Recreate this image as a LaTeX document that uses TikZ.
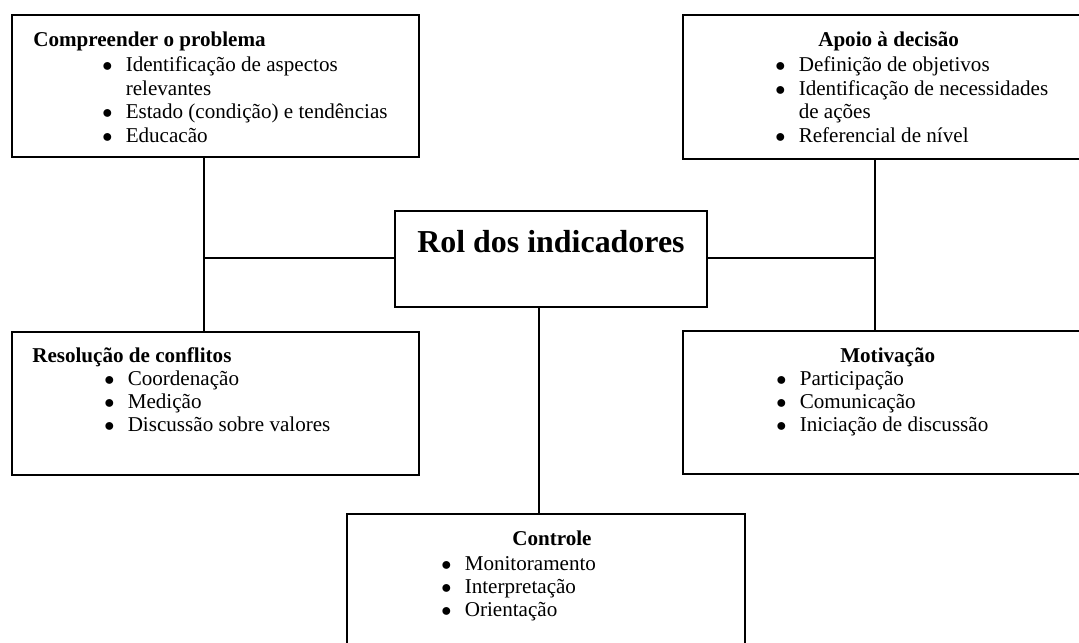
\documentclass[tikz,border=0pt]{standalone}
\usepackage{fontspec}
\setmainfont{Liberation Serif}
\usetikzlibrary{fit}

\newcommand{\listaitens}[1]{\begin{tabular}[t]{@{}l@{\hspace{9.5pt}}l@{}}#1\end{tabular}}
\newcommand{\marca}{$\bullet$}

\tikzset{
  caixa/.style={draw, line width=1.1pt, inner sep=0pt},
  cabecalho/.style={anchor=base west, inner sep=0pt, font=\fontsize{15}{16.6}\selectfont\bfseries},
  itens/.style={anchor=base west, inner sep=0pt, font=\fontsize{15}{16.6}\selectfont},
  ligacao/.style={line width=0.8pt}
}

\begin{document}
\begin{tikzpicture}[x=0.025cm, y=-0.025cm]
  \useasboundingbox (0,0) rectangle (1079,643);
  \clip (0,0) rectangle (1079,643);

  % Caixa central
  \node[caixa, fit={(395,211) (707,307)}] (rol) {};
  \node[anchor=base, inner sep=0pt, font=\fontsize{22.7}{26}\selectfont\bfseries] (roltxt) at (551,252) {Rol dos indicadores};

  % Compreender o problema
  \node[caixa, fit={(12,15) (419,157)}] (cp) {};
  \node[cabecalho] (cptit) at (33,47) {Compreender o problema};
  \node[itens] (cpit) at (102,72) {\listaitens{%
    \marca & Identificação de aspectos\\
           & relevantes\\
    \marca & Estado (condição) e tendências\\
    \marca & Educacão}};

  % Apoio a decisao
  \node[caixa, fit={(683,15) (1095,159)}] (ad) {};
  \node[cabecalho] (adtit) at (818,47) {Apoio à decisão};
  \node[itens] (adit) at (775,72) {\listaitens{%
    \marca & Definição de objetivos\\
    \marca & Identificação de necessidades\\
           & de ações\\
    \marca & Referencial de nível}};

  % Resolucao de conflitos
  \node[caixa, fit={(12,332) (419,475)}] (rc) {};
  \node[cabecalho] (rctit) at (32,362) {Resolução de conflitos};
  \node[itens] (rcit) at (104,385) {\listaitens{%
    \marca & Coordenação\\
    \marca & Medição\\
    \marca & Discussão sobre valores}};

  % Motivacao
  \node[caixa, fit={(683,331) (1095,474)}] (mo) {};
  \node[cabecalho] (motit) at (840,362) {Motivação};
  \node[itens] (moit) at (776,385) {\listaitens{%
    \marca & Participação\\
    \marca & Comunicação\\
    \marca & Iniciação de discussão}};

  % Controle
  \node[caixa, fit={(347,514) (745,665)}] (ct) {};
  \node[cabecalho] (cttit) at (512,545) {Controle};
  \node[itens] (ctit) at (441,570) {\listaitens{%
    \marca & Monitoramento\\
    \marca & Interpretação\\
    \marca & Orientação}};

  % Ligacoes
  \coordinate (jesq) at (204,258);
  \coordinate (jdir) at (875,258);
  \coordinate (jbai) at (539,300);
  \draw[ligacao] (cp.south -| jesq) -- (rc.north -| jesq);
  \draw[ligacao] (jesq) -- (rol.west |- jesq);
  \draw[ligacao] (ad.south -| jdir) -- (mo.north -| jdir);
  \draw[ligacao] (rol.east |- jdir) -- (jdir);
  \draw[ligacao] (rol.south -| jbai) -- (ct.north -| jbai);
\end{tikzpicture}
\end{document}
